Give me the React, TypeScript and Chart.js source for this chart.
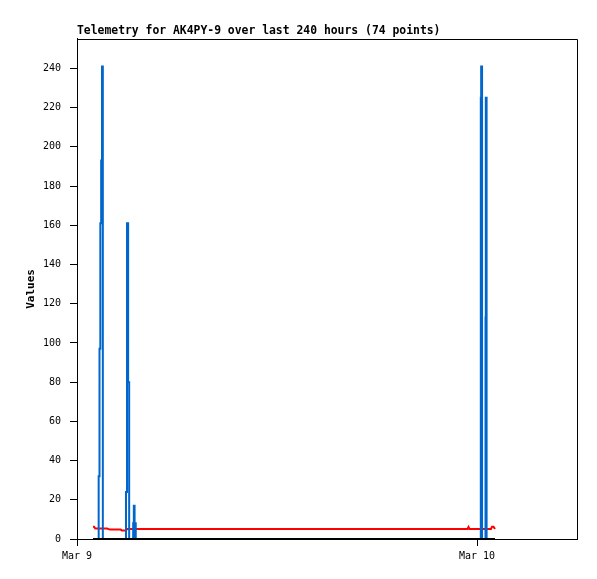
import React, { useEffect, useRef } from "react";
import { Chart, registerables } from "chart.js";

Chart.register(...registerables);

const TITLE = "Telemetry for AK4PY-9 over last 240 hours (74 points)";
const Y_LABEL = "Values";
const X_TICK_HOURS = [0, 24];
const X_TICK_LABELS = ["Mar 9", "Mar 10"];
const Y_TICKS = [0, 20, 40, 60, 80, 100, 120, 140, 160, 180, 200, 220, 240];

// hours since Mar 9 00:00
const times = [
  0.96, 1.02, 1.1, 1.2, 1.3,
  1.35, 1.4, 1.45, 1.5, 1.55, 1.58,
  1.8, 1.98, 2.3, 2.62, 2.7, 2.85, 2.94,
  3.0, 3.068, 3.13, 3.17,
  3.37, 3.41, 3.455, 3.49, 3.525, 3.575,
  3.9, 4.2, 4.6, 5.3, 5.9, 6.6, 7.4, 8.1, 8.7, 9.4, 9.9, 10.2, 10.9, 11.5, 12.3,
  13.0, 13.7, 14.4, 15.1, 15.8, 16.1, 16.6, 17.3, 18.0, 18.7, 19.5, 20.2, 21.0, 21.8, 22.6,
  23.43, 23.49, 23.55, 23.9,
  24.228, 24.25, 24.304, 24.328, 24.51, 24.528, 24.576, 24.6,
  24.84, 24.9, 24.99, 25.08,
];

const blueValues = [
  0, 0, 0, 0, 0,
  32, 97, 161, 193, 241, 0,
  0, 0, 0, 0, 0, 0, 0,
  24, 161, 80, 0,
  0, 8, 17, 0, 8, 0,
  0, 0, 0, 0, 0, 0, 0, 0, 0, 0, 0, 0, 0, 0, 0,
  0, 0, 0, 0, 0, 0, 0, 0, 0, 0, 0, 0, 0, 0, 0,
  0, 0, 0, 0,
  0, 225, 241, 0, 0, 113, 225, 0,
  0, 0, 0, 0,
];

const redValues = [
  6.3, 6.3, 5.3, 5.3, 5.3,
  5.3, 5.3, 5.3, 5.3, 5.3, 5.3,
  5.3, 4.8, 4.8, 4.8, 4.3, 4.3, 4.3,
  5.1, 5.1, 5.1, 5.1,
  5.1, 5.1, 5.1, 5.1, 5.1, 5.1,
  5.1, 5.1, 5.1, 5.1, 5.1, 5.1, 5.1, 5.1, 5.1, 5.1, 5.1, 5.1, 5.1, 5.1, 5.1,
  5.1, 5.1, 5.1, 5.1, 5.1, 5.1, 5.1, 5.1, 5.1, 5.1, 5.1, 5.1, 5.1, 5.1, 5.1,
  5.1, 6.1, 5.1, 5.1,
  5.1, 5.1, 5.1, 5.1, 5.1, 5.1, 5.1, 5.1,
  5.1, 6.3, 6.3, 5.1,
];

const blackValues = [
  0, 0, 0, 0, 0,
  0, 0, 0, 0, 0, 0,
  0, 0, 0, 0, 0, 0, 0,
  0, 0, 0, 0,
  0, 0, 0, 0, 0, 0,
  0, 0, 0, 0, 0, 0, 0, 0, 0, 0, 0, 0, 0, 0, 0,
  0, 0, 0, 0, 0, 0, 0, 0, 0, 0, 0, 0, 0, 0, 0,
  0, 0, 0, 0,
  0, 0, 0, 0, 0, 0, 0, 0,
  0, 0, 0, 0,
];

const MONO = "'DejaVu Sans Mono', 'Liberation Mono', monospace";

const framePlugin = {
  id: "frame",
  beforeDatasetsDraw(chart: any) {
    const { ctx, chartArea: a } = chart;
    ctx.save();
    ctx.strokeStyle = "#000";
    ctx.lineWidth = 1;
    ctx.beginPath();
    const top = Math.round(a.top) + 0.5;
    const right = Math.round(a.right) + 0.5;
    ctx.moveTo(a.left, top);
    ctx.lineTo(right, top);
    ctx.lineTo(right, a.bottom);
    ctx.stroke();
    ctx.restore();
  },
};

function toPoints(vals: number[]) {
  return times.map((t, i) => ({ x: t, y: vals[i] }));
}

export default function App() {
  const ref = useRef<HTMLCanvasElement | null>(null);

  useEffect(() => {
    if (!ref.current) return;
    const chart = new Chart(ref.current, {
      type: "line",
      data: {
        datasets: [
          {
            label: "zero",
            data: toPoints(blackValues),
            borderColor: "#000000",
            borderWidth: 2,
            pointRadius: 0,
            order: 0,
          },
          {
            label: "values",
            data: toPoints(blueValues),
            borderColor: "#0066cc",
            borderWidth: 2,
            borderJoinStyle: "miter",
            stepped: "after",
            pointRadius: 0,
            order: 1,
          },
          {
            label: "level",
            data: toPoints(redValues),
            borderColor: "#ff0000",
            borderWidth: 2,
            pointRadius: 0,
            order: 2,
          },
        ],
      },
      options: {
        animation: false,
        responsive: false,
        maintainAspectRatio: false,
        devicePixelRatio: 1,
        layout: { padding: { left: 0, right: 20, top: 0, bottom: 0 } },
        plugins: {
          legend: { display: false },
          tooltip: { enabled: false },
          title: {
            display: true,
            text: TITLE,
            align: "start",
            fullSize: false,
            color: "#000",
            font: { family: MONO, size: 11.4, weight: "bold", lineHeight: 1.2 },
            padding: { top: 24, bottom: 1.3 },
          },
        },
        scales: {
          x: {
            type: "linear",
            min: 0,
            max: 30,
            afterBuildTicks: (s: any) => {
              s.ticks = X_TICK_HOURS.map((v) => ({ value: v }));
            },
            afterFit: (s: any) => {
              s.height = 40;
            },
            ticks: {
              autoSkip: false,
              maxRotation: 0,
              color: "#000",
              padding: 4,
              font: { family: MONO, size: 10 },
              callback: (v: any) => X_TICK_LABELS[X_TICK_HOURS.indexOf(Number(v))] ?? "",
            },
            grid: {
              drawOnChartArea: false,
              drawTicks: true,
              tickLength: 7,
              color: "#000",
            },
            border: { display: true, color: "#000", width: 1 },
          },
          y: {
            type: "linear",
            min: 0,
            max: 255,
            afterBuildTicks: (s: any) => {
              s.ticks = Y_TICKS.map((v) => ({ value: v }));
            },
            afterFit: (s: any) => {
              s.width = 77;
            },
            ticks: {
              color: "#000",
              padding: 9,
              font: { family: MONO, size: 10 },
              callback: (v: any) => String(v),
            },
            grid: {
              drawOnChartArea: false,
              drawTicks: true,
              tickLength: 7,
              color: "#000",
            },
            border: { display: true, color: "#000", width: 1 },
            title: {
              display: true,
              text: Y_LABEL,
              color: "#000",
              font: { family: MONO, size: 11, weight: "bold", lineHeight: 1.2 },
              padding: { top: 25, bottom: 0 },
            },
          },
        },
      },
      plugins: [framePlugin],
    } as any);
    return () => chart.destroy();
  }, []);

  return (
    <div style={{ position: "absolute", left: 0, top: 0, width: 597, height: 579, background: "#fff" }}>
      <canvas ref={ref} width={597} height={579} style={{ display: "block" }} />
    </div>
  );
}
